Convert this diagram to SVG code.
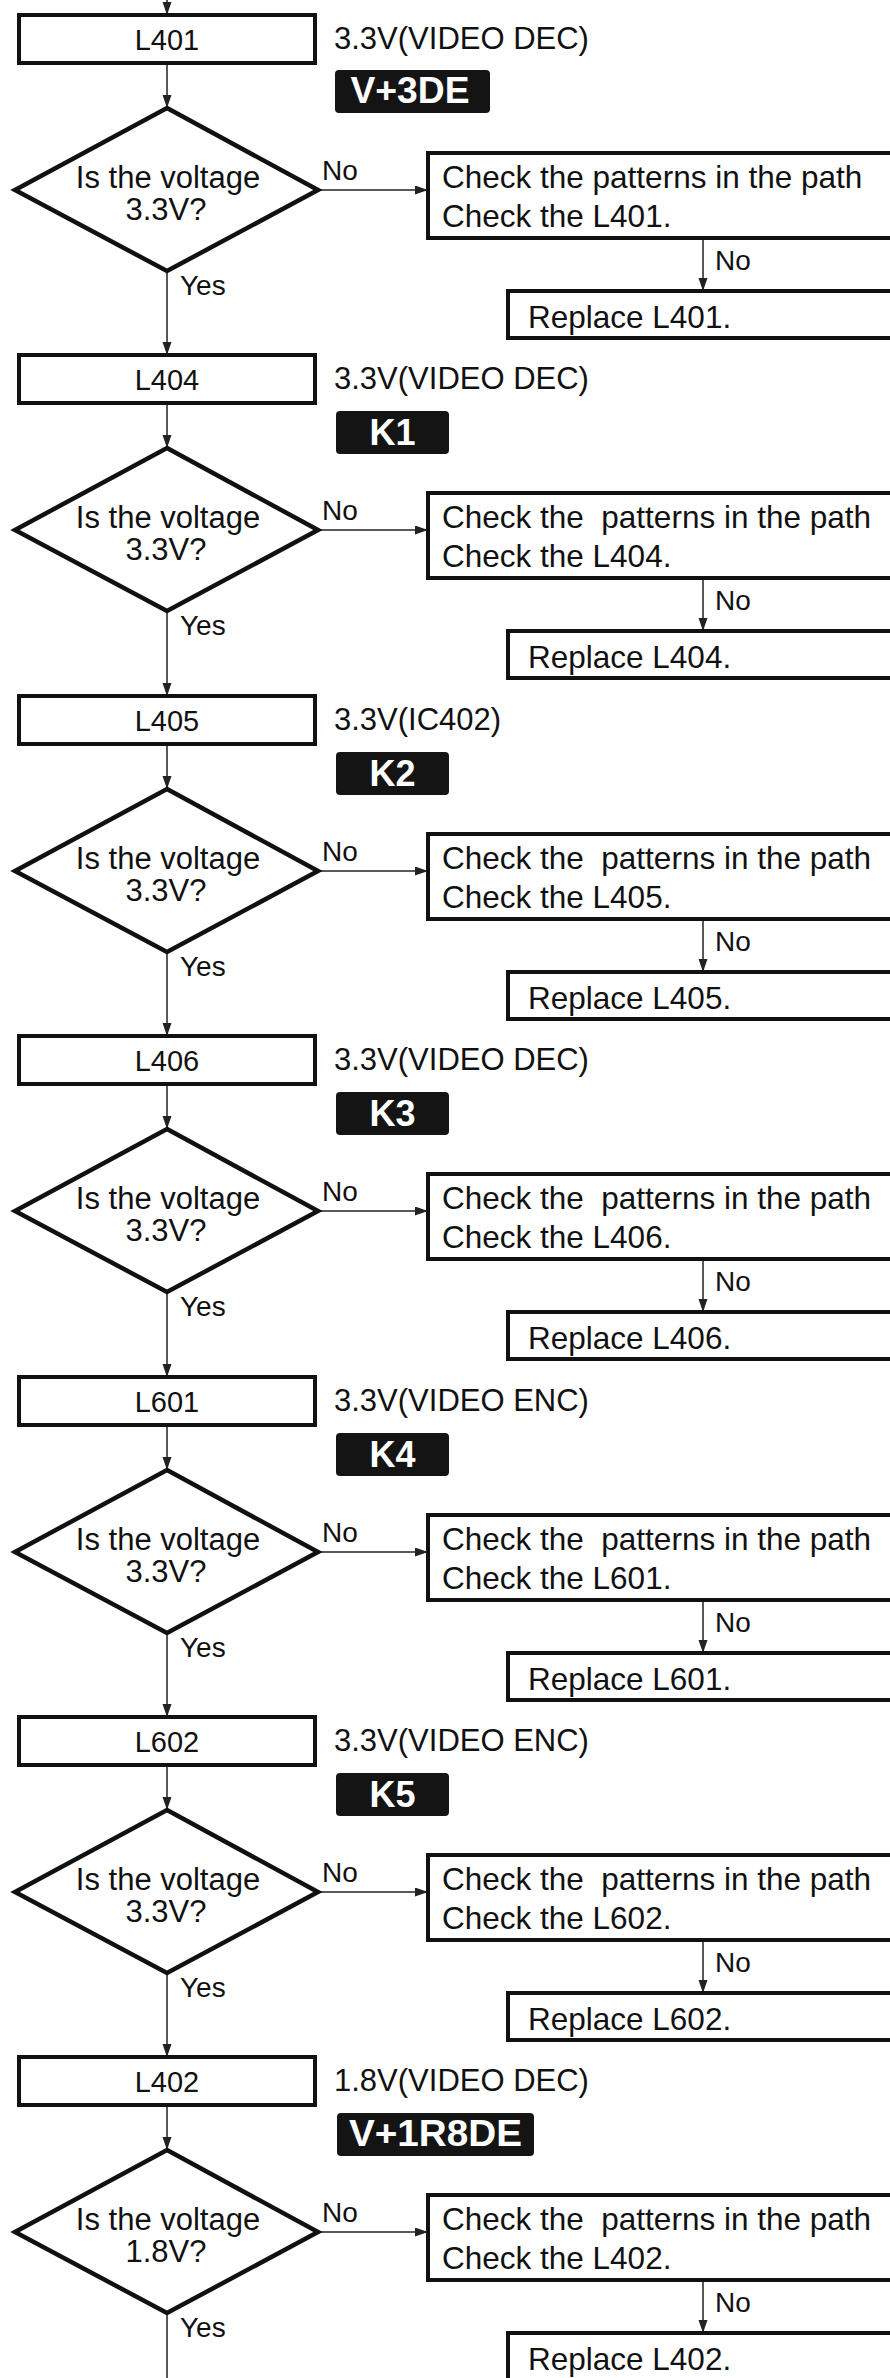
<svg xmlns="http://www.w3.org/2000/svg" width="890" height="2378" viewBox="0 0 890 2378">
<style>
text{font-family:"Liberation Sans",Arial,sans-serif;fill:#111}
.box{fill:#fff;stroke:#111;stroke-width:4}
.dia{fill:#fff;stroke:#111;stroke-width:4.5;stroke-linejoin:miter}
.lbl{font-size:29px;text-anchor:middle}
.q{font-size:31px;text-anchor:middle}
.chk{font-size:31.5px}
.yn{font-size:28px}
.volt{font-size:31px}
.badge{fill:#141414}
.bt{font-size:36px;font-weight:bold;fill:#fff;text-anchor:middle}
.con{stroke:#222;stroke-width:1.5;fill:none}
.arr{marker-end:url(#ah)}
</style>
<defs>
<marker id="ah" markerUnits="userSpaceOnUse" markerWidth="14" markerHeight="10" refX="13" refY="4.5" orient="auto">
<path d="M0,0 L13,4.5 L0,9 z" fill="#222"/>
</marker>
</defs>
<rect width="890" height="2378" fill="#fff"/>

<g id="connectors">
<line class="con arr" x1="167" y1="0" x2="167" y2="15"/>
<g transform="translate(0,0)">
<line class="con arr" x1="167" y1="63" x2="167" y2="108"/>
<line class="con arr" x1="318" y1="190" x2="428" y2="190"/>
<line class="con arr" x1="703" y1="238" x2="703" y2="291"/>
<line class="con arr" x1="167" y1="271" x2="167" y2="355"/>
</g>
<g transform="translate(0,340)">
<line class="con arr" x1="167" y1="63" x2="167" y2="108"/>
<line class="con arr" x1="318" y1="190" x2="428" y2="190"/>
<line class="con arr" x1="703" y1="238" x2="703" y2="291"/>
<line class="con arr" x1="167" y1="271" x2="167" y2="356"/>
</g>
<g transform="translate(0,681)">
<line class="con arr" x1="167" y1="63" x2="167" y2="108"/>
<line class="con arr" x1="318" y1="190" x2="428" y2="190"/>
<line class="con arr" x1="703" y1="238" x2="703" y2="291"/>
<line class="con arr" x1="167" y1="271" x2="167" y2="355"/>
</g>
<g transform="translate(0,1021)">
<line class="con arr" x1="167" y1="63" x2="167" y2="108"/>
<line class="con arr" x1="318" y1="190" x2="428" y2="190"/>
<line class="con arr" x1="703" y1="238" x2="703" y2="291"/>
<line class="con arr" x1="167" y1="271" x2="167" y2="356"/>
</g>
<g transform="translate(0,1362)">
<line class="con arr" x1="167" y1="63" x2="167" y2="108"/>
<line class="con arr" x1="318" y1="190" x2="428" y2="190"/>
<line class="con arr" x1="703" y1="238" x2="703" y2="291"/>
<line class="con arr" x1="167" y1="271" x2="167" y2="355"/>
</g>
<g transform="translate(0,1702)">
<line class="con arr" x1="167" y1="63" x2="167" y2="108"/>
<line class="con arr" x1="318" y1="190" x2="428" y2="190"/>
<line class="con arr" x1="703" y1="238" x2="703" y2="291"/>
<line class="con arr" x1="167" y1="271" x2="167" y2="355"/>
</g>
<g transform="translate(0,2042)">
<line class="con arr" x1="167" y1="63" x2="167" y2="108"/>
<line class="con arr" x1="318" y1="190" x2="428" y2="190"/>
<line class="con arr" x1="703" y1="238" x2="703" y2="291"/>
<line class="con" x1="167" y1="271" x2="167" y2="340"/>
</g>
</g>

<!-- Section 1 -->
<g transform="translate(0,0)">
<g id="box-L401"><rect class="box" x="19" y="15" width="296" height="48"/><text class="lbl" x="167" y="50">L401</text></g>
<g id="note-L401"><text class="volt" x="334" y="49">3.3V(VIDEO DEC)</text></g>
<g id="badge-V3DE"><rect class="badge" x="335" y="70" width="155" height="43" rx="4"/><text class="bt" x="410" y="103" textLength="119" lengthAdjust="spacingAndGlyphs">V+3DE</text></g>
<g id="dec-L401"><polygon class="dia" points="167,108 318,190 167,271 15,190"/><text class="q" x="168" y="188">Is the voltage</text><text class="q" x="166" y="220">3.3V?</text></g>
<g id="lbl-no1-L401"><text class="yn" x="322" y="180">No</text></g>
<g id="lbl-yes-L401"><text class="yn" x="180" y="295">Yes</text></g>
<g id="check-L401"><rect class="box" x="428" y="153" width="480" height="85"/><text class="chk" x="442" y="188" xml:space="preserve">Check the patterns in the path</text><text class="chk" x="442" y="227">Check the L401.</text></g>
<g id="lbl-no2-L401"><text class="yn" x="715" y="270">No</text></g>
<g id="replace-L401"><rect class="box" x="508" y="291" width="400" height="47"/><text class="chk" x="528" y="328">Replace L401.</text></g>
</g>

<!-- Section 2 -->
<g transform="translate(0,340)">
<g id="box-L404"><rect class="box" x="19" y="15" width="296" height="48"/><text class="lbl" x="167" y="50">L404</text></g>
<g id="note-L404"><text class="volt" x="334" y="49">3.3V(VIDEO DEC)</text></g>
<g id="badge-K1"><rect class="badge" x="336" y="71" width="113" height="43" rx="4"/><text class="bt" x="392.5" y="105">K1</text></g>
<g id="dec-L404"><polygon class="dia" points="167,108 318,190 167,271 15,190"/><text class="q" x="168" y="188">Is the voltage</text><text class="q" x="166" y="220">3.3V?</text></g>
<g id="lbl-no1-L404"><text class="yn" x="322" y="180">No</text></g>
<g id="lbl-yes-L404"><text class="yn" x="180" y="295">Yes</text></g>
<g id="check-L404"><rect class="box" x="428" y="153" width="480" height="85"/><text class="chk" x="442" y="188" xml:space="preserve">Check the  patterns in the path</text><text class="chk" x="442" y="227">Check the L404.</text></g>
<g id="lbl-no2-L404"><text class="yn" x="715" y="270">No</text></g>
<g id="replace-L404"><rect class="box" x="508" y="291" width="400" height="47"/><text class="chk" x="528" y="328">Replace L404.</text></g>
</g>

<!-- Section 3 -->
<g transform="translate(0,681)">
<g id="box-L405"><rect class="box" x="19" y="15" width="296" height="48"/><text class="lbl" x="167" y="50">L405</text></g>
<g id="note-L405"><text class="volt" x="334" y="49">3.3V(IC402)</text></g>
<g id="badge-K2"><rect class="badge" x="336" y="71" width="113" height="43" rx="4"/><text class="bt" x="392.5" y="105">K2</text></g>
<g id="dec-L405"><polygon class="dia" points="167,108 318,190 167,271 15,190"/><text class="q" x="168" y="188">Is the voltage</text><text class="q" x="166" y="220">3.3V?</text></g>
<g id="lbl-no1-L405"><text class="yn" x="322" y="180">No</text></g>
<g id="lbl-yes-L405"><text class="yn" x="180" y="295">Yes</text></g>
<g id="check-L405"><rect class="box" x="428" y="153" width="480" height="85"/><text class="chk" x="442" y="188" xml:space="preserve">Check the  patterns in the path</text><text class="chk" x="442" y="227">Check the L405.</text></g>
<g id="lbl-no2-L405"><text class="yn" x="715" y="270">No</text></g>
<g id="replace-L405"><rect class="box" x="508" y="291" width="400" height="47"/><text class="chk" x="528" y="328">Replace L405.</text></g>
</g>

<!-- Section 4 -->
<g transform="translate(0,1021)">
<g id="box-L406"><rect class="box" x="19" y="15" width="296" height="48"/><text class="lbl" x="167" y="50">L406</text></g>
<g id="note-L406"><text class="volt" x="334" y="49">3.3V(VIDEO DEC)</text></g>
<g id="badge-K3"><rect class="badge" x="336" y="71" width="113" height="43" rx="4"/><text class="bt" x="392.5" y="105">K3</text></g>
<g id="dec-L406"><polygon class="dia" points="167,108 318,190 167,271 15,190"/><text class="q" x="168" y="188">Is the voltage</text><text class="q" x="166" y="220">3.3V?</text></g>
<g id="lbl-no1-L406"><text class="yn" x="322" y="180">No</text></g>
<g id="lbl-yes-L406"><text class="yn" x="180" y="295">Yes</text></g>
<g id="check-L406"><rect class="box" x="428" y="153" width="480" height="85"/><text class="chk" x="442" y="188" xml:space="preserve">Check the  patterns in the path</text><text class="chk" x="442" y="227">Check the L406.</text></g>
<g id="lbl-no2-L406"><text class="yn" x="715" y="270">No</text></g>
<g id="replace-L406"><rect class="box" x="508" y="291" width="400" height="47"/><text class="chk" x="528" y="328">Replace L406.</text></g>
</g>

<!-- Section 5 -->
<g transform="translate(0,1362)">
<g id="box-L601"><rect class="box" x="19" y="15" width="296" height="48"/><text class="lbl" x="167" y="50">L601</text></g>
<g id="note-L601"><text class="volt" x="334" y="49">3.3V(VIDEO ENC)</text></g>
<g id="badge-K4"><rect class="badge" x="336" y="71" width="113" height="43" rx="4"/><text class="bt" x="392.5" y="105">K4</text></g>
<g id="dec-L601"><polygon class="dia" points="167,108 318,190 167,271 15,190"/><text class="q" x="168" y="188">Is the voltage</text><text class="q" x="166" y="220">3.3V?</text></g>
<g id="lbl-no1-L601"><text class="yn" x="322" y="180">No</text></g>
<g id="lbl-yes-L601"><text class="yn" x="180" y="295">Yes</text></g>
<g id="check-L601"><rect class="box" x="428" y="153" width="480" height="85"/><text class="chk" x="442" y="188" xml:space="preserve">Check the  patterns in the path</text><text class="chk" x="442" y="227">Check the L601.</text></g>
<g id="lbl-no2-L601"><text class="yn" x="715" y="270">No</text></g>
<g id="replace-L601"><rect class="box" x="508" y="291" width="400" height="47"/><text class="chk" x="528" y="328">Replace L601.</text></g>
</g>

<!-- Section 6 -->
<g transform="translate(0,1702)">
<g id="box-L602"><rect class="box" x="19" y="15" width="296" height="48"/><text class="lbl" x="167" y="50">L602</text></g>
<g id="note-L602"><text class="volt" x="334" y="49">3.3V(VIDEO ENC)</text></g>
<g id="badge-K5"><rect class="badge" x="336" y="71" width="113" height="43" rx="4"/><text class="bt" x="392.5" y="105">K5</text></g>
<g id="dec-L602"><polygon class="dia" points="167,108 318,190 167,271 15,190"/><text class="q" x="168" y="188">Is the voltage</text><text class="q" x="166" y="220">3.3V?</text></g>
<g id="lbl-no1-L602"><text class="yn" x="322" y="180">No</text></g>
<g id="lbl-yes-L602"><text class="yn" x="180" y="295">Yes</text></g>
<g id="check-L602"><rect class="box" x="428" y="153" width="480" height="85"/><text class="chk" x="442" y="188" xml:space="preserve">Check the  patterns in the path</text><text class="chk" x="442" y="227">Check the L602.</text></g>
<g id="lbl-no2-L602"><text class="yn" x="715" y="270">No</text></g>
<g id="replace-L602"><rect class="box" x="508" y="291" width="400" height="47"/><text class="chk" x="528" y="328">Replace L602.</text></g>
</g>

<!-- Section 7 -->
<g transform="translate(0,2042)">
<g id="box-L402"><rect class="box" x="19" y="15" width="296" height="48"/><text class="lbl" x="167" y="50">L402</text></g>
<g id="note-L402"><text class="volt" x="334" y="49">1.8V(VIDEO DEC)</text></g>
<g id="badge-V1R8DE"><rect class="badge" x="337" y="71" width="197" height="43" rx="4"/><text class="bt" x="435.5" y="104" textLength="173" lengthAdjust="spacingAndGlyphs">V+1R8DE</text></g>
<g id="dec-L402"><polygon class="dia" points="167,108 318,190 167,271 15,190"/><text class="q" x="168" y="188">Is the voltage</text><text class="q" x="166" y="220">1.8V?</text></g>
<g id="lbl-no1-L402"><text class="yn" x="322" y="180">No</text></g>
<g id="lbl-yes-L402"><text class="yn" x="180" y="295">Yes</text></g>
<g id="check-L402"><rect class="box" x="428" y="153" width="480" height="85"/><text class="chk" x="442" y="188" xml:space="preserve">Check the  patterns in the path</text><text class="chk" x="442" y="227">Check the L402.</text></g>
<g id="lbl-no2-L402"><text class="yn" x="715" y="270">No</text></g>
<g id="replace-L402"><rect class="box" x="508" y="291" width="400" height="60"/><text class="chk" x="528" y="328">Replace L402.</text></g>
</g>
</svg>
